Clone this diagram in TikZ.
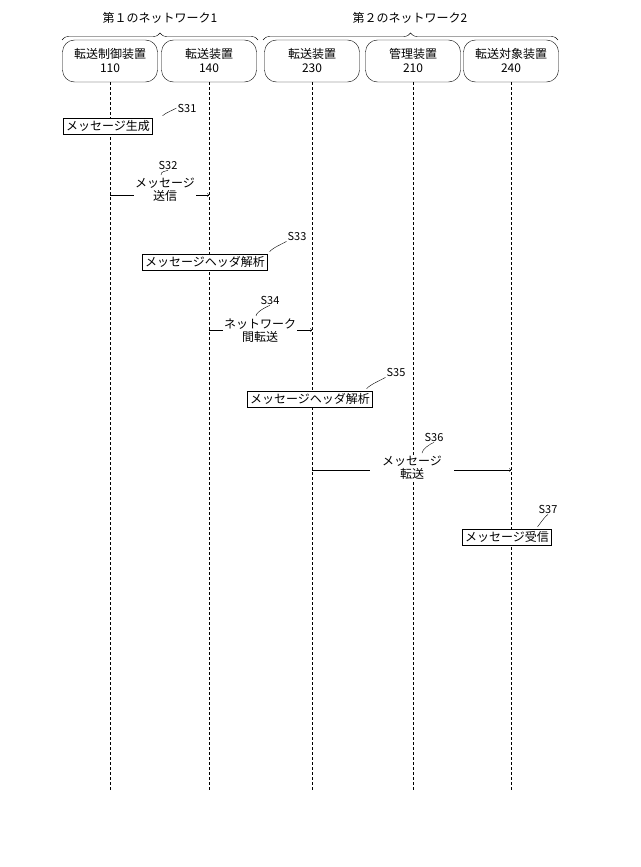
\documentclass[tikz,border=0pt]{standalone}
\usepackage{fontspec}
\setmainfont{Noto Sans CJK JP}
\usetikzlibrary{decorations.pathreplacing}
\begin{document}
\begin{tikzpicture}[x=1pt,y=-1pt,>=to,font=\fontsize{12}{14}\selectfont,
  dev node/.style={draw,rounded corners=12pt,minimum width=95pt,minimum height=42pt,align=center,inner sep=1pt},
  step box/.style={draw,fill=white,inner sep=2.5pt},
  msg text/.style={fill=white,align=center,inner sep=1pt,font=\fontsize{12}{13}\selectfont},
  step label/.style={inner sep=1pt,font=\fontsize{11}{12}\selectfont},
  life line/.style={densely dashed,thin}]
  \useasboundingbox (0,0) rectangle (640,867);

  % devices
  \node[dev node] (d1) at (110,61) {転送制御装置\\110};
  \node[dev node] (d2) at (209,61) {転送装置\\140};
  \node[dev node] (d3) at (312,61) {転送装置\\230};
  \node[dev node] (d4) at (413,61) {管理装置\\210};
  \node[dev node] (d5) at (511,61) {転送対象装置\\240};

  % networks
  \draw[decorate,decoration={brace,amplitude=7pt}] (62,40) -- (258,40);
  \draw[decorate,decoration={brace,amplitude=7pt}] (263,40) -- (558,40);
  \node (n1) at (160,18) {第１のネットワーク1};
  \node (n2) at (410,18) {第２のネットワーク2};

  % life lines
  \coordinate (e1) at (110,792);
  \coordinate (e2) at (209,792);
  \coordinate (e3) at (312,792);
  \coordinate (e4) at (413,792);
  \coordinate (e5) at (511,792);
  \foreach \i in {1,...,5}
    \draw[life line] (d\i.south) -- (e\i);

  % steps
  \node[step box] (s31) at (108,126) {メッセージ生成};
  \node[step label] (l31) at (187,108) {S31};
  \draw[thin] (s31.north east) ++(10,-2) .. controls +(3,-3) and +(-3,2) .. (l31.west);

  \coordinate (a32) at (110,195);
  \coordinate (b32) at (209,195);
  \draw[->] (a32) -- (b32);
  \node[msg text] (m32) at (165,190) {メッセージ\\送信};
  \node[step label] (l32) at (168,165) {S32};
  \draw[thin] (m32.north) ++(-4,-2) .. controls +(0,-4) and +(-3,1) .. (l32.south);

  \node[step box] (s33) at (205,262) {メッセージヘッダ解析};
  \node[step label] (l33) at (297,236) {S33};
  \draw[thin] (s33.north east) ++(2,-2) .. controls +(3,-4) and +(-3,2) .. (l33.south west);

  \coordinate (a34) at (209,330);
  \coordinate (b34) at (312,330);
  \draw[->] (a34) -- (b34);
  \node[msg text] (m34) at (260,331) {ネットワーク\\間転送};
  \node[step label] (l34) at (270,300) {S34};
  \draw[thin] (m34.north) ++(-4,-2) .. controls +(0,-4) and +(-3,1) .. (l34.south);

  \node[step box] (s35) at (310,399) {メッセージヘッダ解析};
  \node[step label] (l35) at (396,372) {S35};
  \draw[thin] (s35.north east) ++(-6,-2) .. controls +(3,-4) and +(-3,2) .. (l35.south west);

  \coordinate (a36) at (312,470);
  \coordinate (b36) at (511,470);
  \draw[->] (a36) -- (b36);
  \node[msg text,inner xsep=12pt] (m36) at (412,468) {メッセージ\\転送};
  \node[step label] (l36) at (434,437) {S36};
  \draw[thin] (m36.north) ++(10,-2) .. controls +(0,-4) and +(-3,1) .. (l36.south);

  \node[step box] (s37) at (507,537) {メッセージ受信};
  \node[step label] (l37) at (548,509) {S37};
  \draw[thin] (s37.north east) ++(-14,-2) .. controls +(3,-4) and +(-3,2) .. (l37.south);
\end{tikzpicture}
\end{document}
